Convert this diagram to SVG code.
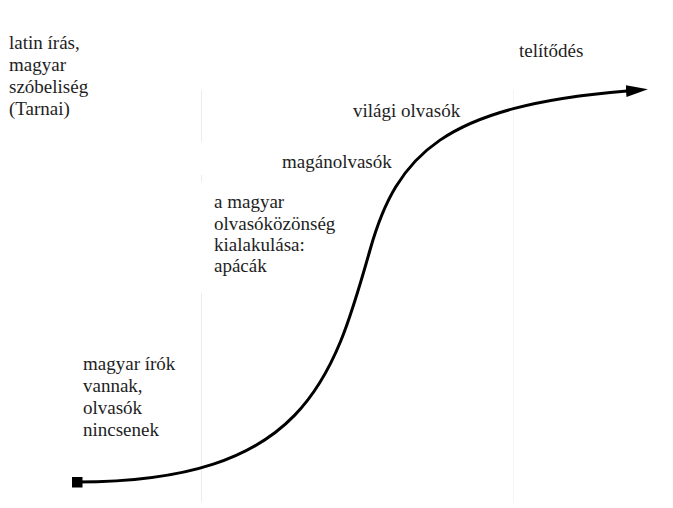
<svg xmlns="http://www.w3.org/2000/svg" width="673" height="508" viewBox="0 0 673 508">
<style>
.lbl{font-size:19px;fill:#1e1e1e}
.guide{stroke:#ececec;stroke-width:1;fill:none}
.guide2{stroke:#f4f4f4;stroke-width:1;fill:none}
.curve{stroke:#000;stroke-width:3;fill:none}
</style>
<defs>
<marker id="arrow" markerUnits="userSpaceOnUse" markerWidth="24" markerHeight="14" refX="1" refY="6" orient="auto">
<path d="M0,0 L22,6 L0,12 z" fill="#000"/>
</marker>
<marker id="sq" markerUnits="userSpaceOnUse" markerWidth="12" markerHeight="12" refX="5.5" refY="5.5" orient="0">
<rect x="0" y="0" width="11" height="11" fill="#000"/>
</marker>
</defs>
<g id="guides">
<line class="guide" x1="201.5" y1="90" x2="201.5" y2="142"/>
<line class="guide" x1="201.5" y1="175" x2="201.5" y2="182"/>
<line class="guide" x1="201.5" y1="293" x2="201.5" y2="502"/>
<line class="guide2" x1="513.5" y1="90" x2="513.5" y2="503"/>
</g>
<g id="connectors">
<path class="curve" marker-start="url(#sq)" marker-end="url(#arrow)" d="M77,482 C304,482 333,381 370,250 C397,154 444,106 627,91"/>
</g>
<g font-family="Liberation Serif, DejaVu Serif, serif" class="lbl">
<g id="node-latin">
<text class="lbl" x="9" y="49">latin írás,</text>
<text class="lbl" x="9" y="71">magyar</text>
<text class="lbl" x="9" y="93">szóbeliség</text>
<text class="lbl" x="9" y="115">(Tarnai)</text>
</g>
<g id="node-irok">
<text class="lbl" x="83" y="370">magyar írók</text>
<text class="lbl" x="83" y="392">vannak,</text>
<text class="lbl" x="83" y="414">olvasók</text>
<text class="lbl" x="83" y="436">nincsenek</text>
</g>
<g id="node-apacak">
<text class="lbl" x="214" y="208">a magyar</text>
<text class="lbl" x="214" y="230">olvasóközönség</text>
<text class="lbl" x="214" y="251">kialakulása:</text>
<text class="lbl" x="214" y="272">apácák</text>
</g>
<g id="node-magan"><text class="lbl" x="282" y="168">magánolvasók</text></g>
<g id="node-vilagi"><text class="lbl" x="353" y="117">világi olvasók</text></g>
<g id="node-telitodes"><text class="lbl" x="519" y="57">telítődés</text></g>
</g>
</svg>
